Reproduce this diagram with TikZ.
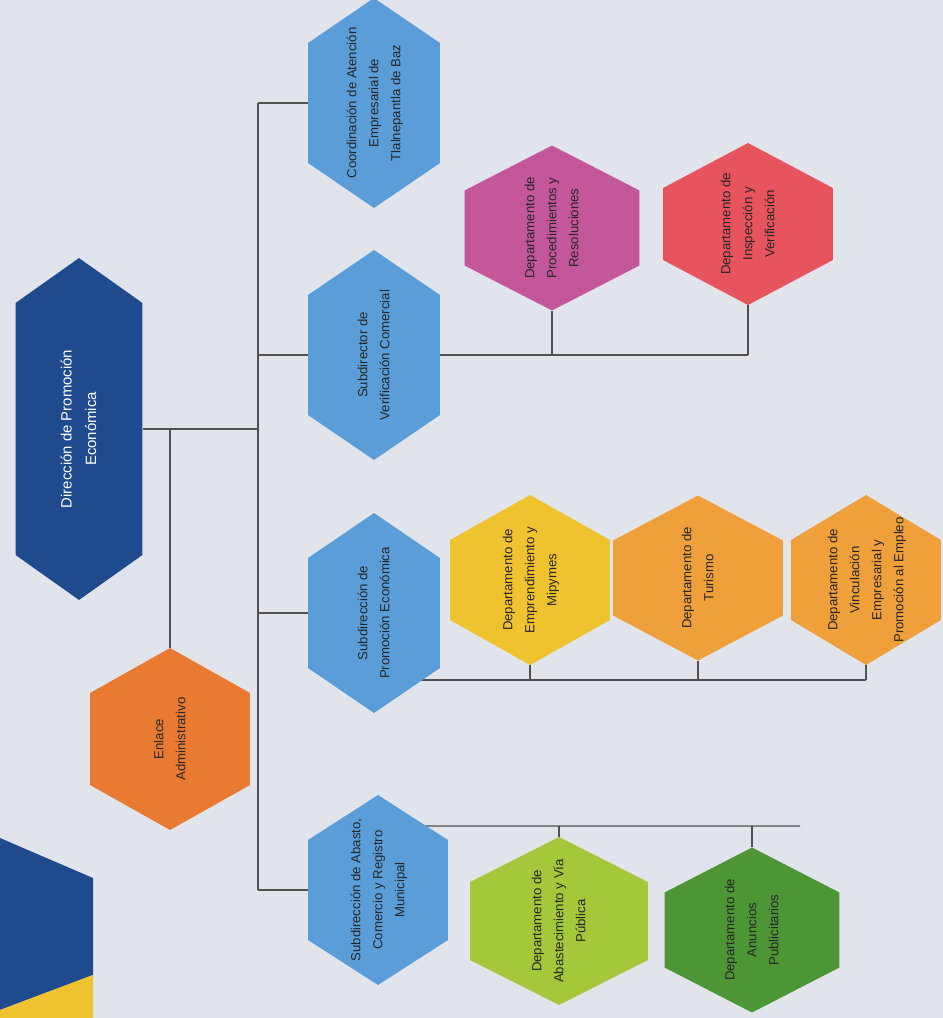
\documentclass[tikz,border=0pt]{standalone}
\usepackage{fontspec}
\setmainfont{Liberation Sans}
\usetikzlibrary{positioning,calc,backgrounds}
\definecolor{bgpaper}{HTML}{E2E4EC}
\definecolor{dirblue}{HTML}{1F4B8E}
\definecolor{subblue}{HTML}{5A9DD8}
\definecolor{pinkdep}{HTML}{C4579A}
\definecolor{reddep}{HTML}{E8545E}
\definecolor{yellowdep}{HTML}{EFC330}
\definecolor{orangedep}{HTML}{EFA03A}
\definecolor{enlaceor}{HTML}{E97A32}
\definecolor{limedep}{HTML}{A5C83A}
\definecolor{greendep}{HTML}{4C9636}
\definecolor{linegray}{HTML}{505050}
\newcommand{\vtext}[1]{\rotatebox{90}{\begin{tabular}{@{}c@{}}#1\end{tabular}}}

\begin{document}
\begin{tikzpicture}[
  x=0.02cm, y=-0.02cm,
  hexa/.style={inner sep=0pt, text=black!85,
               font=\fontsize{7.5}{12.5}\selectfont,
               path picture={\fill[#1] (path picture bounding box.north)
                 -- ([yshift=-0.9cm]path picture bounding box.north east)
                 -- ([yshift=0.9cm]path picture bounding box.south east)
                 -- (path picture bounding box.south)
                 -- ([yshift=0.9cm]path picture bounding box.south west)
                 -- ([yshift=-0.9cm]path picture bounding box.north west)
                 -- cycle;}},
  sub/.style={hexa=subblue, minimum width=2.64cm, minimum height=4.2cm},
  dept/.style={hexa=#1, minimum width=3.4cm, minimum height=3.3cm},
  link/.style={draw=linegray, line width=0.8pt}
]
\useasboundingbox (0,0) rectangle (943,1018);
\begin{scope}[on background layer]
  \fill[bgpaper] (0,0) rectangle (943,1018);
\end{scope}
% ---------------- Direction and liaison ----------------
\node[hexa=dirblue, text=white, font=\fontsize{8.5}{14}\selectfont,
      minimum width=2.54cm, minimum height=6.84cm] (Dir) at (79,429)
  {\vtext{Dirección de Promoción\\Económica}};
\node[hexa=enlaceor, minimum width=3.2cm, minimum height=3.64cm] (Enlace) at (170,739)
  {\vtext{Enlace\\Administrativo}};
% ---------------- Subdirections ----------------
\node[sub] (B1) at (374,103)
  {\vtext{Coordinación de Atención\\Empresarial de\\Tlalnepantla de Baz}};
\node[sub] (B2) at (374,355)
  {\vtext{Subdirector de\\Verificación Comercial}};
\node[sub, minimum height=4cm] (B3) at (374,613)
  {\vtext{Subdirección de\\Promoción Económica}};
\node[sub, minimum width=2.8cm, minimum height=3.8cm] (B4) at (378,890)
  {\vtext{Subdirección de Abasto,\\Comercio y Registro\\Municipal}};
% ---------------- Departments ----------------
\node[dept=pinkdep, minimum width=3.5cm] (Pro) at (552,228)
  {\vtext{Departamento de\\Procedimientos y\\Resoluciones}};
\node[dept=reddep, minimum height=3.24cm] (Ins) at (748,224)
  {\vtext{Departamento de\\Inspección y\\Verificación}};
\node[dept=yellowdep, minimum width=3.2cm, minimum height=3.4cm] (Emp) at (530,580)
  {\vtext{Departamento de\\Emprendimiento y\\Mipymes}};
\node[dept=orangedep] (Tur) at (698,578)
  {\vtext{Departamento de\\Turismo}};
\node[dept=orangedep, minimum width=3cm, minimum height=3.4cm] (Vin) at (866,580)
  {\vtext{Departamento de\\Vinculación\\Empresarial y\\Promoción al Empleo}};
\node[dept=limedep, minimum width=3.56cm, minimum height=3.36cm] (Aba) at (559,921)
  {\vtext{Departamento de\\Abastecimiento y Vía\\Pública}};
\node[dept=greendep, minimum width=3.5cm] (Anu) at (752,930)
  {\vtext{Departamento de\\Anuncios\\Publicitarios}};
% ---------------- Corner shapes ----------------
\fill[dirblue] (0,838) -- (93,878) -- (93,975) -- (0,1010) -- cycle;
\fill[yellowdep] (0,1010) -- (93,975) -- (93,1018) -- (0,1018) -- cycle;
% ---------------- Connectors ----------------
\coordinate (trunk) at (258,0);
\coordinate (bus3) at ([yshift=-1.34cm]B3.center);
\coordinate (bus4) at ([yshift=1.28cm]B4.center);
\coordinate (bus4end) at (800,826);
\begin{scope}[on background layer]
  \draw[link] (Dir.east) -- (Dir.east -| trunk);
  \draw[link] (Enlace.north |- Dir.east) -- (Enlace.north);
  \draw[link] (B1.west -| trunk) -- (B4.west -| trunk);
  \foreach \s in {B1,B2,B3,B4}
    \draw[link] (\s.west) -- (\s.west -| trunk);
  \draw[link] (B2.east) -- (B2.east -| Ins.south);
  \foreach \d in {Pro,Ins}
    \draw[link] (\d.south |- B2.east) -- (\d.south);
  \draw[link] (bus3) -- (bus3 -| Vin.south);
  \foreach \d in {Emp,Tur,Vin}
    \draw[link] (\d.south |- bus3) -- (\d.south);
  \draw[link] (bus4) -- (bus4end);
  \foreach \d in {Aba,Anu}
    \draw[link] (\d.north |- bus4) -- (\d.north);
\end{scope}
\end{tikzpicture}
\end{document}
